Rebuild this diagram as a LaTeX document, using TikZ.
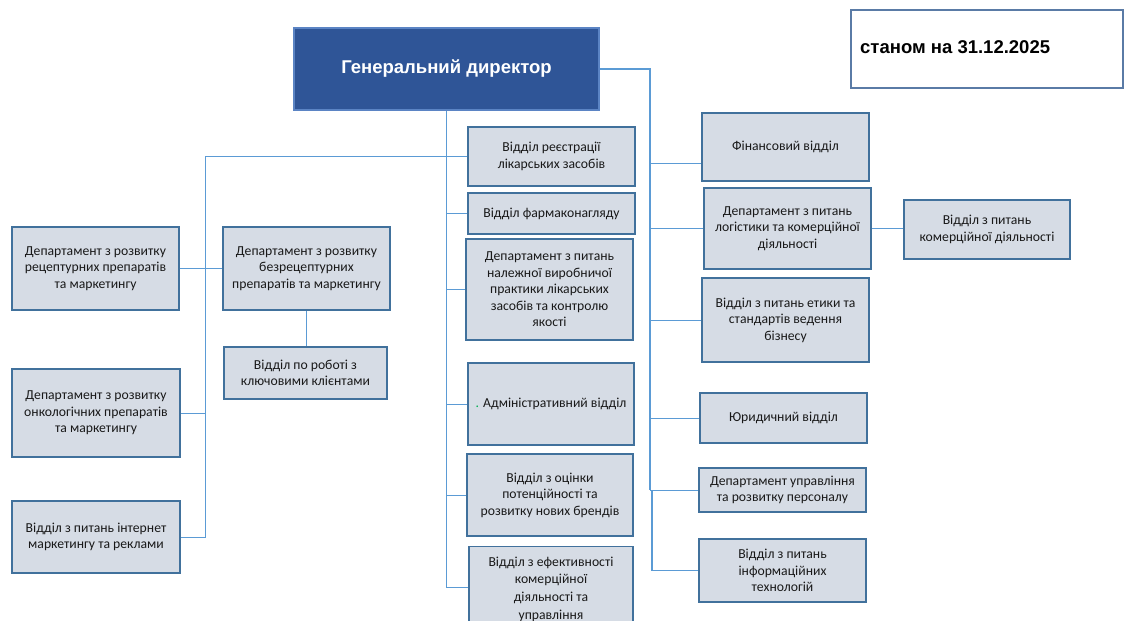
\documentclass[tikz,border=0pt]{standalone}
\usepackage{fontspec}
\setmainfont{Carlito}
\newfontfamily\arialf{Liberation Sans}
\usetikzlibrary{calc}
\definecolor{boxfill}{HTML}{D6DCE5}
\definecolor{boxdraw}{HTML}{41719C}
\definecolor{connc}{HTML}{5B9BD5}
\definecolor{gdfill}{HTML}{2F5597}
\definecolor{gdborder}{HTML}{5B84C4}
\definecolor{datedraw}{HTML}{5A7BA6}
\definecolor{dotgreen}{HTML}{00B050}
\begin{document}
\begin{tikzpicture}[x=1pt,y=-1pt,
  box/.style={draw=boxdraw, fill=boxfill, line width=1.2pt, align=center, inner sep=2pt,
              font=\fontsize{13.7}{16.5}\selectfont, text=black!90},
  link/.style={draw=connc, line width=1pt},
  linkR/.style={draw=connc, line width=1.8pt}]
\useasboundingbox (0,0) rectangle (1127,621);
\clip (0,0) rectangle (1127,621);

% top
\node[draw=gdborder, fill=gdfill, line width=1.3pt, minimum width=305pt, minimum height=82pt,
      font=\arialf\bfseries\fontsize{18.5}{22}\selectfont, text=white] (GD) at (446.5,69) {Генеральний директор};
\node[draw=datedraw, fill=white, line width=1.3pt, minimum width=272pt, minimum height=78pt] (DT) at (987,49) {};
\node[anchor=west, font=\arialf\bfseries\fontsize{18.5}{22}\selectfont, inner sep=0pt] (DTT) at (860,47) {станом на 31.12.2025};

% left
\node[box, minimum width=167pt, minimum height=83pt] (L1) at (95.5,268.5) {Департамент з розвитку\\рецептурних препаратів\\та маркетингу};
\node[box, minimum width=167pt, minimum height=83pt] (L2) at (306.5,268.5) {Департамент з розвитку\\безрецептурних\\препаратів та маркетингу};
\node[box, minimum width=163pt, minimum height=52pt] (L5) at (305.5,373) {Відділ по роботі з\\ключовими клієнтами};
\node[box, minimum width=168pt, minimum height=88pt] (L3) at (96,413) {Департамент з розвитку\\онкологічних препаратів\\та маркетингу};
\node[box, minimum width=168pt, minimum height=72pt] (L4) at (96,537) {Відділ з питань інтернет\\маркетингу та реклами};

% middle
\node[box, minimum width=167pt, minimum height=59pt] (M1) at (551.5,156.5) {Відділ реєстрації\\лікарських засобів};
\node[box, minimum width=167pt, minimum height=41pt] (M2) at (551.5,213.5) {Відділ фармаконагляду};
\node[box, minimum width=167pt, minimum height=101pt] (M3) at (549.5,289.5) {Департамент з питань\\належної виробничої\\практики лікарських\\засобів та контролю\\якості};
\node[box, minimum width=166pt, minimum height=82pt] (M4) at (551,404) {{\color{dotgreen}.} Адміністративний відділ};
\node[box, minimum width=166pt, minimum height=82pt] (M5) at (550,495) {Відділ з оцінки\\потенційності та\\розвитку нових брендів};
\node[box, minimum width=164pt, minimum height=85pt, font=\fontsize{13.7}{17.7}\selectfont] (M6) at (551,589) {Відділ з ефективності\\комерційної\\діяльності та\\управління};

% right
\node[box, minimum width=167pt, minimum height=68pt] (R1) at (785.5,147) {Фінансовий відділ};
\node[box, minimum width=167pt, minimum height=81pt] (R2) at (787.5,228.5) {Департамент з питань\\логістики та комерційної\\діяльності};
\node[box, minimum width=166pt, minimum height=59pt] (R2b) at (987,229.5) {Відділ з питань\\комерційної діяльності};
\node[box, minimum width=167pt, minimum height=84pt] (R3) at (785.5,320) {Відділ з питань етики та\\стандартів ведення\\бізнесу};
\node[box, minimum width=167pt, minimum height=50pt] (R4) at (783.5,418) {Юридичний відділ};
\node[box, minimum width=167pt, minimum height=44pt] (R5) at (782.5,490) {Департамент управління\\та розвитку персоналу};
\node[box, minimum width=167pt, minimum height=63pt] (R6) at (782.5,570.5) {Відділ з питань\\інформаційних\\технологій};

% trunk x positions
\coordinate (lt) at (205,0);
\coordinate (rt) at (650,0);
\coordinate (rt2) at (652,0);

% middle trunk
\draw[link] (GD.south) -- (GD.south |- 0,587) -- (M6.west |- 0,587);
\foreach \n in {M2,M3,M4,M5} \draw[link] (GD.south |- \n.west) -- (\n.west);

% left trunk
\draw[link] (M1.west) -- (lt |- M1.west) -- (lt |- L4.east) -- (L4.east);
\draw[link] (lt |- L3.east) -- (L3.east);
\draw[link] (L1.east) -- (L2.west);
\draw[link] (L2.south) -- (L2.south |- L5.north);

% right trunk
\draw[linkR] (GD.east) -- (rt |- GD.east) -- (rt |- R5.west);
\draw[linkR] (rt2 |- R5.west) -- (rt2 |- R6.west);
\draw[link] (rt |- 0,163) -- (R1.west |- 0,163);
\foreach \n in {R2,R3,R4,R5} \draw[link] (rt |- \n.west) -- (\n.west);
\draw[link] (rt2 |- R6.west) -- (R6.west);
\draw[link] (R2.east) -- (R2.east -| R2b.west);
\end{tikzpicture}
\end{document}
